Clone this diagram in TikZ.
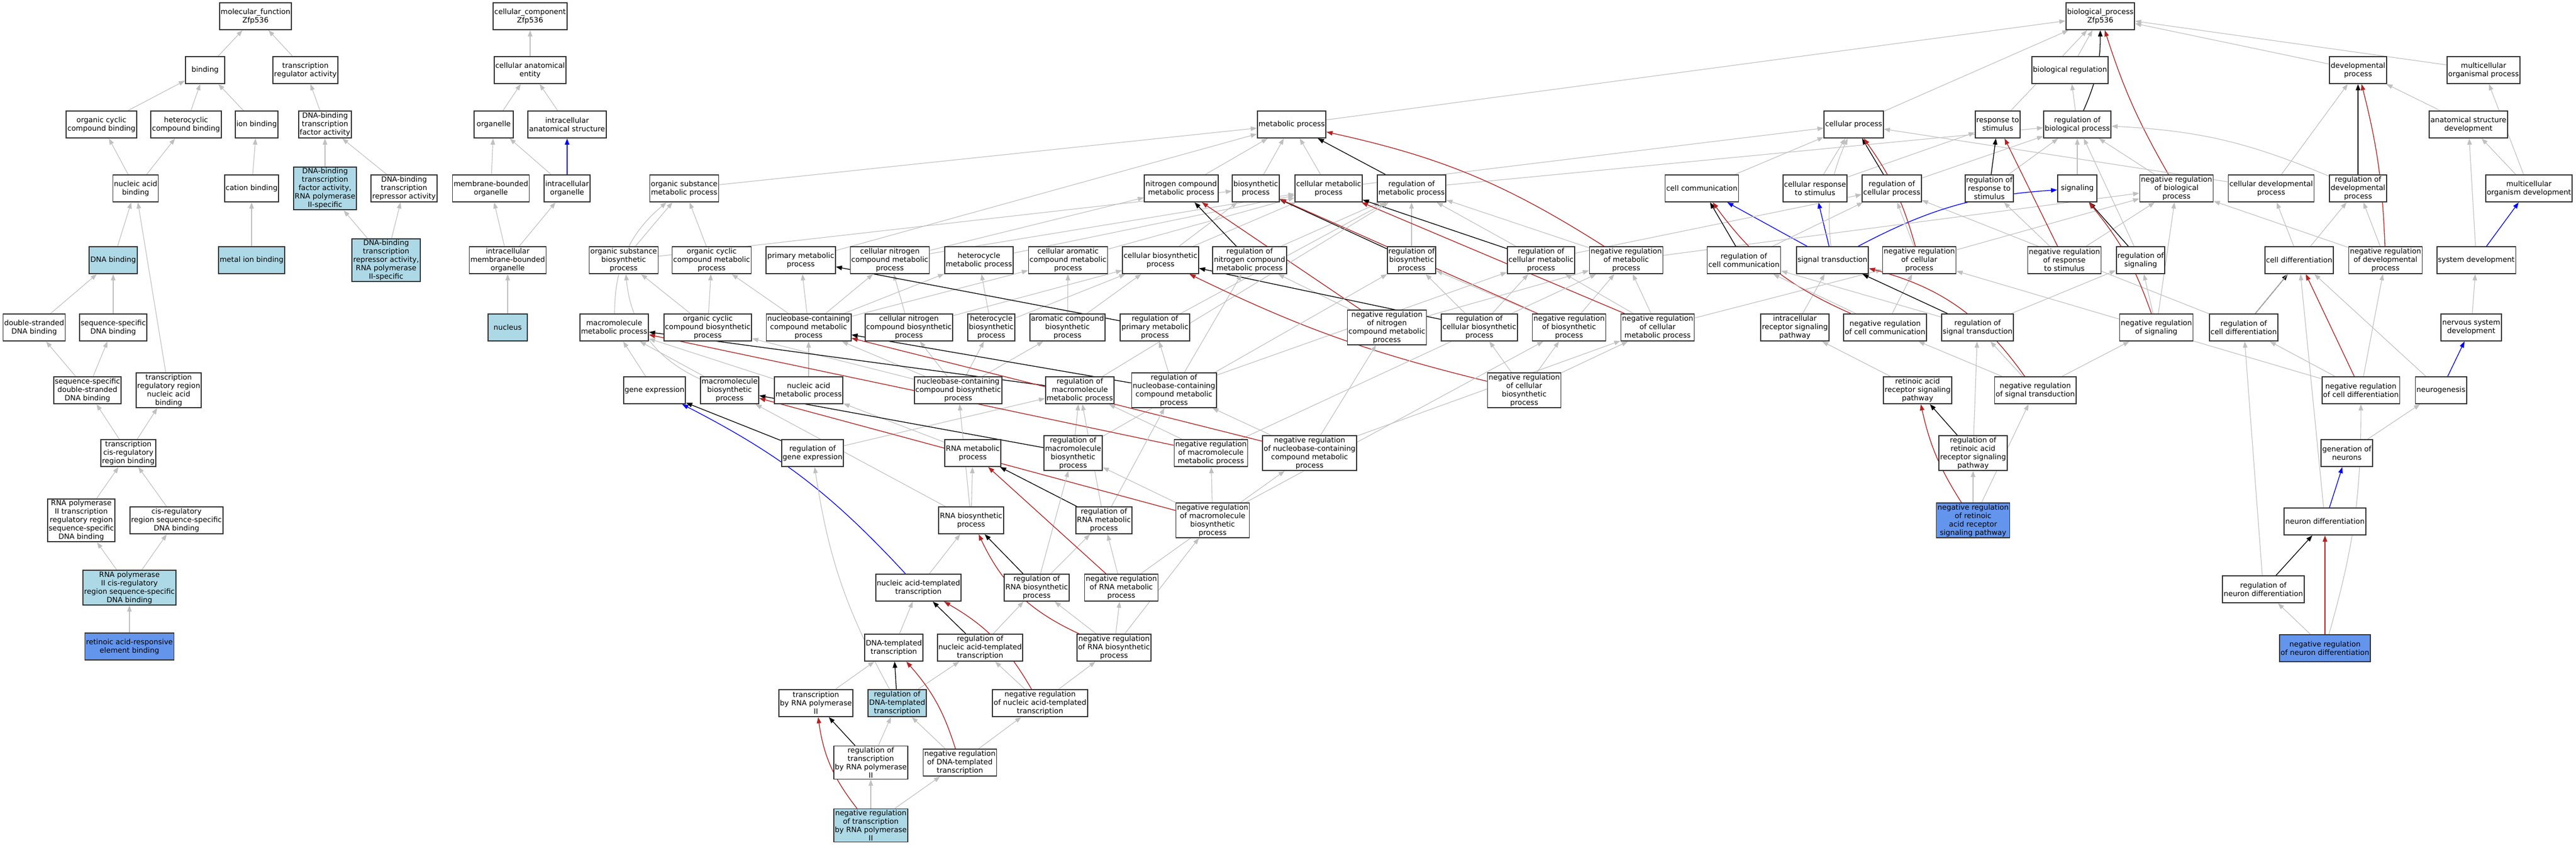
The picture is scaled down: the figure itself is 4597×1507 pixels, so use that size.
\documentclass[tikz,border=0pt]{standalone}
\usepackage{fontspec}
\setmainfont{DejaVu Sans}
\usetikzlibrary{arrows.meta}
\pgfdeclarelayer{background}
\pgfsetlayers{background,main}
\definecolor{lblue}{HTML}{ADD8E6}
\definecolor{cblue}{HTML}{6495ED}
\definecolor{egray}{HTML}{C0C0C0}
\definecolor{ered}{HTML}{B22222}
\definecolor{eblue}{HTML}{0000FF}
\newcommand{\edg}[3]{\draw[#1] (#2) -- (#3);}
\begin{document}
\begin{tikzpicture}[x=1pt,y=-1pt,
 nd/.style={draw=black!80, line width=1.8pt, fill=white, align=center, inner xsep=2pt, inner ysep=2pt, minimum height=48pt, minimum width=70pt, font=\fontsize{13}{15}\selectfont},
 lb/.style={nd, fill=lblue},
 cb/.style={nd, fill=cblue},
 eg/.style={draw=egray, line width=1.1pt, -{Triangle[length=11pt,width=8pt]}},
 ek/.style={draw=black, line width=1.3pt, -{Triangle[length=11pt,width=8pt]}},
 er/.style={draw=ered, line width=1.3pt, -{Triangle[length=11pt,width=8pt]}},
 eb/.style={draw=eblue, line width=1.3pt, -{Triangle[length=11pt,width=8pt]}}]
\useasboundingbox (0,0) rectangle (4597,1507);
% ---------- molecular function ----------
\node[nd] (mf) at (456,29) {molecular\_function\\Zfp536};
\node[nd] (bind) at (366,125) {binding};
\node[nd] (tra) at (545,125) {transcription\\regulator activity};
\node[nd] (ocb) at (181,222) {organic cyclic\\compound binding};
\node[nd] (hcb) at (332,222) {heterocyclic\\compound binding};
\node[nd] (ionb) at (458,222) {ion binding};
\node[nd] (dtfa) at (580,222) {DNA-binding\\transcription\\factor activity};
\node[nd] (nab) at (242,336) {nucleic acid\\binding};
\node[nd] (catb) at (449,336) {cation binding};
\node[lb] (tfr2) at (580,336) {DNA-binding\\transcription\\factor activity,\\RNA polymerase\\II-specific};
\node[nd] (drep) at (721,336) {DNA-binding\\transcription\\repressor activity};
\node[lb] (dnab) at (202,464) {DNA binding};
\node[lb] (mib) at (449,464) {metal ion binding};
\node[lb] (drep2) at (689,464) {DNA-binding\\transcription\\repressor activity,\\RNA polymerase\\II-specific};
\node[nd] (dsdb) at (61,584) {double-stranded\\DNA binding};
\node[nd] (ssdb) at (202,584) {sequence-specific\\DNA binding};
\node[nd] (ssds) at (156,696) {sequence-specific\\double-stranded\\DNA binding};
\node[nd] (trrn) at (301,696) {transcription\\regulatory region\\nucleic acid\\binding};
\node[nd] (tcis) at (229,808) {transcription\\cis-regulatory\\region binding};
\node[nd] (r2tr) at (145,928) {RNA polymerase\\II transcription\\regulatory region\\sequence-specific\\DNA binding};
\node[nd] (cisr) at (315,928) {cis-regulatory\\region sequence-specific\\DNA binding};
\node[lb] (r2cis) at (231,1048) {RNA polymerase\\II cis-regulatory\\region sequence-specific\\DNA binding};
\node[cb] (rare) at (231,1153) {retinoic acid-responsive\\element binding};
% ---------- cellular component ----------
\node[nd] (ccomp) at (946,29) {cellular\_component\\Zfp536};
\node[nd] (cae) at (946,125) {cellular anatomical\\entity};
\node[nd] (orgl) at (881,222) {organelle};
\node[nd] (ias) at (1012,222) {intracellular\\anatomical structure};
\node[nd] (mbo) at (876,336) {membrane-bounded\\organelle};
\node[nd] (io) at (1012,336) {intracellular\\organelle};
\node[nd] (imbo) at (906,464) {intracellular\\membrane-bounded\\organelle};
\node[lb] (nucl) at (906,584) {nucleus};
% ---------- biological process ----------
\node[nd] (bp) at (3748,29) {biological\_process\\Zfp536};
\node[nd] (breg) at (3694,125) {biological regulation};
\node[nd] (dev) at (4208,125) {developmental\\process};
\node[nd] (mop) at (4432,125) {multicellular\\organismal process};
\node[nd] (met) at (2305,222) {metabolic process};
\node[nd] (cp) at (3308,222) {cellular process};
\node[nd] (rs) at (3565,222) {response to\\stimulus};
\node[nd] (rbp) at (3707,222) {regulation of\\biological process};
\node[nd] (asd) at (4405,222) {anatomical structure\\development};
\node[nd] (osm) at (1221,336) {organic substance\\metabolic process};
\node[nd] (ncm) at (2108,336) {nitrogen compound\\metabolic process};
\node[nd] (bio) at (2241,336) {biosynthetic\\process};
\node[nd] (cmp) at (2371,336) {cellular metabolic\\process};
\node[nd] (rmp) at (2519,336) {regulation of\\metabolic process};
\node[nd] (cc) at (3037,336) {cell communication};
\node[nd] (crs) at (3239,336) {cellular response\\to stimulus};
\node[nd] (rcp) at (3376,336) {regulation of\\cellular process};
\node[nd] (rrs) at (3550,336) {regulation of\\response to\\stimulus};
\node[nd] (sig) at (3707,336) {signaling};
\node[nd] (nrbp) at (3884,336) {negative regulation\\of biological\\process};
\node[nd] (cdp) at (4053,336) {cellular developmental\\process};
\node[nd] (rdp) at (4208,336) {regulation of\\developmental\\process};
\node[nd] (mod) at (4513,336) {multicellular\\organism development};
\node[nd] (osb) at (1113,464) {organic substance\\biosynthetic\\process};
\node[nd] (occm) at (1270,464) {organic cyclic\\compound metabolic\\process};
\node[nd] (pmp) at (1429,464) {primary metabolic\\process};
\node[nd] (cncm) at (1588,464) {cellular nitrogen\\compound metabolic\\process};
\node[nd] (hmp) at (1747,464) {heterocycle\\metabolic process};
\node[nd] (cacm) at (1906,464) {cellular aromatic\\compound metabolic\\process};
\node[nd] (cbp) at (2071,464) {cellular biosynthetic\\process};
\node[nd] (rncm) at (2230,464) {regulation of\\nitrogen compound\\metabolic process};
\node[nd] (rbio) at (2519,464) {regulation of\\biosynthetic\\process};
\node[nd] (rcmp) at (2750,464) {regulation of\\cellular metabolic\\process};
\node[nd] (nrmp) at (2902,464) {negative regulation\\of metabolic\\process};
\node[nd] (rcc) at (3112,464) {regulation of\\cell communication};
\node[nd] (st) at (3270,464) {signal transduction};
\node[nd] (nrcp) at (3425,464) {negative regulation\\of cellular\\process};
\node[nd] (nrrs) at (3684,464) {negative regulation\\of response\\to stimulus};
\node[nd] (rsig) at (3820,464) {regulation of\\signaling};
\node[nd] (cdiff) at (4103,464) {cell differentiation};
\node[nd] (nrdp) at (4257,464) {negative regulation\\of developmental\\process};
\node[nd] (sysdev) at (4419,464) {system development};
\node[nd] (mmp) at (1096,584) {macromolecule\\metabolic process};
\node[nd] (occb) at (1263,584) {organic cyclic\\compound biosynthetic\\process};
\node[nd] (nbcm) at (1443,584) {nucleobase-containing\\compound metabolic\\process};
\node[nd] (cncb) at (1622,584) {cellular nitrogen\\compound biosynthetic\\process};
\node[nd] (hbp) at (1769,584) {heterocycle\\biosynthetic\\process};
\node[nd] (acb) at (1905,584) {aromatic compound\\biosynthetic\\process};
\node[nd] (rpmp) at (2061,584) {regulation of\\primary metabolic\\process};
\node[nd] (nrncm) at (2475,584) {negative regulation\\of nitrogen\\compound metabolic\\process};
\node[nd] (rcbp) at (2640,584) {regulation of\\cellular biosynthetic\\process};
\node[nd] (nrbio) at (2800,584) {negative regulation\\of biosynthetic\\process};
\node[nd] (nrcmp) at (2958,584) {negative regulation\\of cellular\\metabolic process};
\node[nd] (irsp) at (3203,584) {intracellular\\receptor signaling\\pathway};
\node[nd] (nrcc) at (3364,584) {negative regulation\\of cell communication};
\node[nd] (rst) at (3529,584) {regulation of\\signal transduction};
\node[nd] (nrsig) at (3848,584) {negative regulation\\of signaling};
\node[nd] (rcd) at (4004,584) {regulation of\\cell differentiation};
\node[nd] (nsd) at (4410,584) {nervous system\\development};
\node[nd] (ge) at (1168,696) {gene expression};
\node[nd] (mbp) at (1302,696) {macromolecule\\biosynthetic\\process};
\node[nd] (nam) at (1443,696) {nucleic acid\\metabolic process};
\node[nd] (nbcb) at (1710,696) {nucleobase-containing\\compound biosynthetic\\process};
\node[nd] (rmmp) at (1927,696) {regulation of\\macromolecule\\metabolic process};
\node[nd] (rnbcm) at (2095,696) {regulation of\\nucleobase-containing\\compound metabolic\\process};
\node[nd] (nrcbp) at (2720,696) {negative regulation\\of cellular\\biosynthetic\\process};
\node[nd] (rarsp) at (3422,696) {retinoic acid\\receptor signaling\\pathway};
\node[nd] (nrst) at (3632,696) {negative regulation\\of signal transduction};
\node[nd] (nrcd) at (4213,696) {negative regulation\\of cell differentiation};
\node[nd] (neurog) at (4356,696) {neurogenesis};
\node[nd] (rge) at (1450,808) {regulation of\\gene expression};
\node[nd] (rnamp) at (1736,808) {RNA metabolic\\process};
\node[nd] (rmbp) at (1915,808) {regulation of\\macromolecule\\biosynthetic\\process};
\node[nd] (nrmmp) at (2161,808) {negative regulation\\of macromolecule\\metabolic process};
\node[nd] (nrnbcm) at (2337,808) {negative regulation\\of nucleobase-containing\\compound metabolic\\process};
\node[nd] (rrarsp) at (3521,808) {regulation of\\retinoic acid\\receptor signaling\\pathway};
\node[nd] (gon) at (4188,808) {generation of\\neurons};
\node[nd] (rnabp) at (1733,928) {RNA biosynthetic\\process};
\node[nd] (rrnamp) at (1970,928) {regulation of\\RNA metabolic\\process};
\node[nd] (nrmbp) at (2164,928) {negative regulation\\of macromolecule\\biosynthetic\\process};
\node[cb] (nrrarsp) at (3521,928) {negative regulation\\of retinoic\\acid receptor\\signaling pathway};
\node[nd] (nd) at (4149,930) {neuron differentiation};
\node[nd] (natt) at (1639,1048) {nucleic acid-templated\\transcription};
\node[nd] (rrnabp) at (1850,1048) {regulation of\\RNA biosynthetic\\process};
\node[nd] (nrrnamp) at (2001,1048) {negative regulation\\of RNA metabolic\\process};
\node[nd] (rnd) at (4039,1051) {regulation of\\neuron differentiation};
\node[nd] (dtt) at (1595,1155) {DNA-templated\\transcription};
\node[nd] (rnatt) at (1749,1155) {regulation of\\nucleic acid-templated\\transcription};
\node[nd] (nrrnabp) at (1988,1155) {negative regulation\\of RNA biosynthetic\\process};
\node[cb] (nrnd) at (4149,1156) {negative regulation\\of neuron differentiation};
\node[nd] (trp) at (1456,1254) {transcription\\by RNA polymerase\\II};
\node[lb] (rdtt) at (1601,1254) {regulation of\\DNA-templated\\transcription};
\node[nd] (nrnatt) at (1856,1254) {negative regulation\\of nucleic acid-templated\\transcription};
\node[nd] (rtrp) at (1554,1360) {regulation of\\transcription\\by RNA polymerase\\II};
\node[nd] (nrdtt) at (1713,1360) {negative regulation\\of DNA-templated\\transcription};
\node[lb] (nrtrp) at (1554,1472) {negative regulation\\of transcription\\by RNA polymerase\\II};
\begin{pgfonlayer}{background}
\fill[white] (0,0) rectangle (4597,1507);
% MF
\edg{eg}{bind}{mf}\edg{eg}{tra}{mf}\edg{eg}{ocb}{bind}\edg{eg}{hcb}{bind}\edg{eg}{ionb}{bind}
\edg{eg}{dtfa}{tra}\edg{eg}{nab}{ocb}\edg{eg}{nab}{hcb}\edg{eg}{catb}{ionb}\edg{eg}{tfr2}{dtfa}
\edg{eg}{drep}{dtfa}\edg{eg}{dnab}{nab}\edg{eg}{mib}{catb}\edg{eg}{drep2}{tfr2}\edg{eg}{drep2}{drep}
\edg{eg}{dsdb}{dnab}\edg{eg}{ssdb}{dnab}\edg{eg}{trrn}{nab}\edg{eg}{ssds}{dsdb}\edg{eg}{ssds}{ssdb}
\edg{eg}{tcis}{ssds}\edg{eg}{tcis}{trrn}\edg{eg}{r2tr}{tcis}\edg{eg}{cisr}{tcis}
\edg{eg}{r2cis}{r2tr}\edg{eg}{r2cis}{cisr}\edg{eg}{rare}{r2cis}
% CC
\edg{eg}{cae}{ccomp}\edg{eg}{orgl}{cae}\edg{eg}{ias}{cae}\edg{eg}{mbo}{orgl}\edg{eg}{io}{orgl}
\edg{eb}{io}{ias}\edg{eg}{imbo}{mbo}\edg{eg}{imbo}{io}\edg{eg}{nucl}{imbo}
% BP top
\edg{eg}{breg}{bp}\edg{eg}{dev}{bp}\edg{eg}{mop}{bp}\edg{eg}{met}{bp}\edg{eg}{cp}{bp}\edg{eg}{rs}{bp}
\edg{eg}{rbp}{breg}\draw[ek] (rbp) to[bend right=12] (bp);\draw[er] (nrbp) to[bend left=6] (bp);
\edg{ek}{rdp}{dev}\draw[er] (nrdp) to[bend right=6] (dev);\edg{eg}{asd}{dev}\edg{eg}{mod}{mop}\edg{eg}{mod}{asd}
\edg{eg}{cdp}{dev}\edg{eg}{cdp}{cp}\edg{eg}{sysdev}{asd}\edg{eb}{sysdev}{mod}
\edg{eg}{cdiff}{cdp}\edg{ek}{rcd}{cdiff}\edg{eg}{rcd}{rcp}\edg{eg}{rcd}{rdp}
\edg{er}{nrcd}{cdiff}\edg{eg}{nrcd}{rcd}\edg{eg}{nrcd}{nrdp}\edg{eg}{nrcd}{nrcp}
\edg{eg}{nrdp}{rdp}\edg{eg}{nrdp}{nrbp}\draw[eg] (rdp) to[bend right=10] (rbp);
\edg{eg}{neurog}{cdiff}\edg{eb}{neurog}{nsd}\edg{eg}{nsd}{sysdev}\edg{eg}{gon}{neurog}
\edg{eb}{nd}{gon}\edg{eg}{nd}{cdiff}\edg{ek}{rnd}{nd}\edg{eg}{rnd}{rcd}
\edg{er}{nrnd}{nd}\edg{eg}{nrnd}{rnd}\draw[eg] (nrnd) to[bend right=8] (nrcd);
\edg{eg}{cc}{cp}\edg{eg}{crs}{cp}\edg{eg}{crs}{rs}\edg{ek}{rcp}{cp}\edg{eg}{rcp}{rbp}
\edg{ek}{rrs}{rs}\edg{eg}{rrs}{rbp}\edg{eg}{sig}{rbp}
\draw[eb] (st) to[bend left=12] (sig);\edg{eb}{st}{cc}\edg{eb}{st}{crs}\draw[eg] (st) to[bend left=15] (cp);\edg{eg}{nrbp}{rbp}
\edg{eg}{osm}{met}\edg{eg}{pmp}{met}\edg{eg}{ncm}{met}\edg{eg}{bio}{met}\edg{eg}{cmp}{met}
\edg{eg}{cmp}{cp}\edg{ek}{rmp}{met}\edg{eg}{rmp}{rbp}\draw[er] (nrmp) to[bend right=10] (met);\edg{eg}{nrmp}{rmp}\edg{eg}{nrmp}{nrbp}
\edg{eg}{osb}{osm}\edg{eg}{osb}{bio}\edg{eg}{occm}{osm}\edg{eg}{cncm}{ncm}\edg{eg}{cncm}{cmp}
\edg{eg}{hmp}{cmp}\edg{eg}{cacm}{cmp}\edg{eg}{cbp}{bio}\edg{eg}{cbp}{cmp}
\edg{ek}{rncm}{ncm}\edg{eg}{rncm}{rmp}\edg{ek}{rbio}{bio}\edg{eg}{rbio}{rmp}
\edg{ek}{rcmp}{cmp}\edg{eg}{rcmp}{rmp}\edg{eg}{rcmp}{rcp}
\edg{ek}{rcc}{cc}\edg{eg}{rcc}{rcp}\draw[er] (nrcp) to[bend right=10] (cp);\edg{eg}{nrcp}{rcp}\edg{eg}{nrcp}{nrbp}
\edg{er}{nrrs}{rs}\edg{eg}{nrrs}{rrs}\edg{eg}{nrrs}{nrbp}\edg{ek}{rsig}{sig}\edg{eg}{rsig}{rbp}
% row 584
\draw[eg] (mmp) to[bend left=25] (osm);\edg{eg}{occb}{osb}\edg{eg}{occb}{occm}\edg{eg}{nbcm}{occm}\edg{eg}{nbcm}{pmp}
\edg{eg}{nbcm}{cncm}\edg{eg}{nbcm}{hmp}\edg{eg}{nbcm}{cacm}\edg{eg}{cncb}{cncm}\edg{eg}{cncb}{cbp}
\edg{eg}{hbp}{hmp}\edg{eg}{hbp}{cbp}\edg{eg}{acb}{cacm}\edg{eg}{acb}{cbp}
\edg{ek}{rpmp}{pmp}\edg{eg}{rpmp}{rmp}\edg{er}{nrncm}{ncm}\edg{eg}{nrncm}{rncm}\edg{eg}{nrncm}{nrmp}
\edg{ek}{rcbp}{cbp}\edg{eg}{rcbp}{rbio}\edg{eg}{rcbp}{rcmp}
\edg{er}{nrbio}{bio}\edg{eg}{nrbio}{rbio}\edg{eg}{nrbio}{nrmp}
\edg{er}{nrcmp}{cmp}\edg{eg}{nrcmp}{rcmp}\edg{eg}{nrcmp}{nrmp}\edg{eg}{nrcmp}{nrcp}
\edg{eg}{irsp}{st}\draw[er] (nrcc) to[bend left=15] (cc);\edg{eg}{nrcc}{rcc}\edg{eg}{nrcc}{nrcp}
\edg{ek}{rst}{st}\edg{eg}{rst}{rcc}\edg{eg}{rst}{rsig}
\draw[er] (nrsig) to[bend right=10] (sig);\edg{eg}{nrsig}{rsig}\edg{eg}{nrsig}{nrbp}
% row 696
\edg{eg}{ge}{mmp}\edg{eg}{mbp}{mmp}\draw[eg] (mbp) to[bend left=30] (osb);\edg{eg}{nam}{nbcm}\edg{eg}{nam}{mmp}
\edg{eg}{nbcb}{nbcm}\edg{eg}{nbcb}{cncb}\edg{eg}{nbcb}{hbp}\edg{eg}{nbcb}{acb}\edg{eg}{nbcb}{occb}
\edg{ek}{rmmp}{mmp}\edg{eg}{rmmp}{rmp}
\edg{ek}{rnbcm}{nbcm}\edg{eg}{rnbcm}{rpmp}\edg{eg}{rnbcm}{rncm}\edg{eg}{rnbcm}{rcmp}
\draw[er] (nrcbp) to[bend left=6] (cbp);\edg{eg}{nrcbp}{rcbp}\edg{eg}{nrcbp}{nrbio}\edg{eg}{nrcbp}{nrcmp}
\edg{eg}{rarsp}{irsp}\draw[er] (nrst) to[bend right=20] (st);\edg{eg}{nrst}{rst}\edg{eg}{nrst}{nrsig}\edg{eg}{nrst}{nrcc}
% row 808
\edg{ek}{rge}{ge}\edg{eg}{rge}{rmmp}\edg{eg}{rnamp}{nam}\edg{ek}{rmbp}{mbp}\edg{eg}{rmbp}{rmmp}\edg{eg}{rmbp}{rbio}
\edg{er}{nrmmp}{mmp}\edg{eg}{nrmmp}{rmmp}\edg{eg}{nrmmp}{nrmp}
\edg{er}{nrnbcm}{nbcm}\edg{eg}{nrnbcm}{rnbcm}\edg{eg}{nrnbcm}{nrcmp}\edg{eg}{nrnbcm}{nrncm}
\edg{ek}{rrarsp}{rarsp}\edg{eg}{rrarsp}{rst}
% row 928
\edg{eg}{rnabp}{rnamp}\edg{eg}{rnabp}{nbcb}\edg{eg}{rnabp}{mbp}
\edg{ek}{rrnamp}{rnamp}\edg{eg}{rrnamp}{rnbcm}\edg{eg}{rrnamp}{rmmp}
\edg{er}{nrmbp}{mbp}\edg{eg}{nrmbp}{rmbp}\edg{eg}{nrmbp}{nrmmp}\edg{eg}{nrmbp}{nrbio}
\draw[er] (nrrarsp) to[bend left=10] (rarsp);\edg{eg}{nrrarsp}{rrarsp}\edg{eg}{nrrarsp}{nrst}
% row 1048
\edg{eg}{natt}{rnabp}\draw[eb] (natt) to[bend right=10] (ge);\edg{ek}{rrnabp}{rnabp}\edg{eg}{rrnabp}{rrnamp}\edg{eg}{rrnabp}{rmbp}
\edg{er}{nrrnamp}{rnamp}\edg{eg}{nrrnamp}{rrnamp}\edg{eg}{nrrnamp}{nrnbcm}
% row 1155
\edg{eg}{dtt}{natt}\edg{ek}{rnatt}{natt}\edg{eg}{rnatt}{rrnabp}
\draw[er] (nrrnabp) to[bend left=20] (rnabp);\edg{eg}{nrrnabp}{rrnabp}\edg{eg}{nrrnabp}{nrrnamp}\edg{eg}{nrrnabp}{nrmbp}
% row 1254
\edg{eg}{trp}{dtt}\edg{ek}{rdtt}{dtt}\edg{eg}{rdtt}{rnatt}\draw[eg] (rdtt) to[bend left=10] (rge);
\draw[er] (nrnatt) to[bend right=15] (natt);\edg{eg}{nrnatt}{rnatt}\edg{eg}{nrnatt}{nrrnabp}
% rows 1360, 1472
\edg{ek}{rtrp}{trp}\edg{eg}{rtrp}{rdtt}\draw[er] (nrdtt) to[bend right=12] (dtt);\edg{eg}{nrdtt}{rdtt}\edg{eg}{nrdtt}{nrnatt}
\draw[er] (nrtrp) to[bend left=15] (trp);\edg{eg}{nrtrp}{rtrp}\edg{eg}{nrtrp}{nrdtt}
\end{pgfonlayer}
\end{tikzpicture}
\end{document}
